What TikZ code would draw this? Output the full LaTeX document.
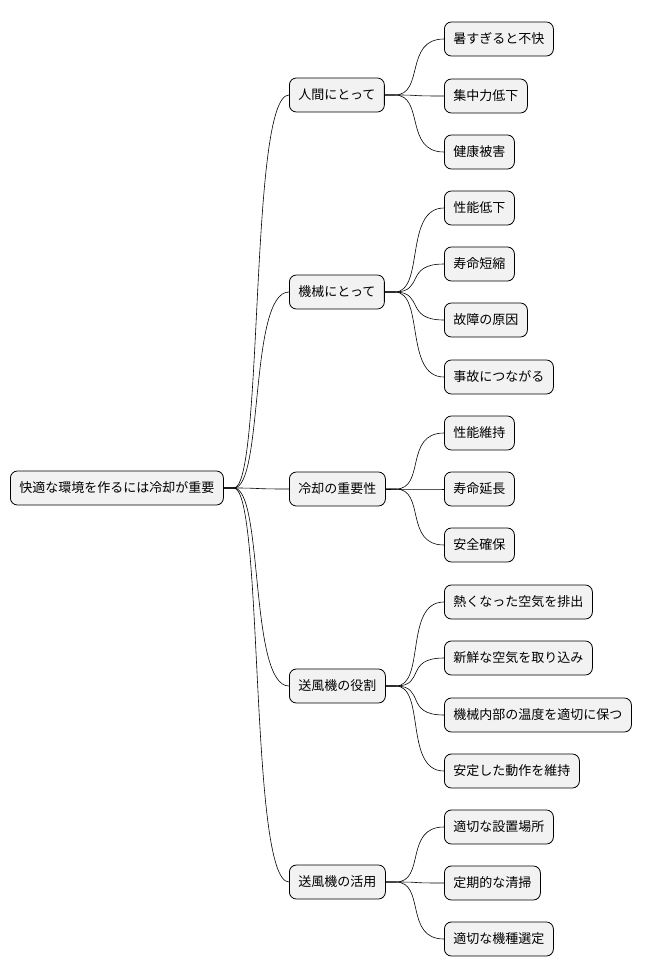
\documentclass[tikz,border=0pt]{standalone}
\usepackage{fontspec}
\setmainfont{Noto Sans CJK JP}
\begin{document}
\begin{tikzpicture}[x=1pt,y=-1pt,
  box/.style={draw=black,line width=0.8pt,fill=black!5,rounded corners=7pt,
    anchor=west,minimum height=34pt,inner xsep=9pt,font=\fontsize{13}{15}\selectfont},
  link/.style={line width=0.6pt}]
  \useasboundingbox (0,0) rectangle (656,978);

  % root
  \node[box] (root) at (10,488) {快適な環境を作るには冷却が重要};

  % level 1
  \node[box] (hum) at (289,95) {人間にとって};
  \node[box] (mac) at (289,292) {機械にとって};
  \node[box] (imp) at (289,489) {冷却の重要性};
  \node[box] (fan) at (289,686) {送風機の役割};
  \node[box] (use) at (289,882) {送風機の活用};

  % level 2
  \foreach \n/\y/\t in {h1/39/暑すぎると不快,h2/96/集中力低下,h3/152/健康被害,
      m1/208/性能低下,m2/264/寿命短縮,m3/320/故障の原因,m4/377/事故につながる,
      i1/433/性能維持,i2/489/寿命延長,i3/545/安全確保,
      f1/602/熱くなった空気を排出,f2/658/新鮮な空気を取り込み,f3/715/機械内部の温度を適切に保つ,f4/771/安定した動作を維持,
      u1/827/適切な設置場所,u2/883/定期的な清掃,u3/939/適切な機種選定}
    \node[box] (\n) at (444,\y) {\t};

  % connectors
  \foreach \p/\c in {root/hum,root/mac,root/imp,root/fan,root/use,
      hum/h1,hum/h2,hum/h3,mac/m1,mac/m2,mac/m3,mac/m4,
      imp/i1,imp/i2,imp/i3,fan/f1,fan/f2,fan/f3,fan/f4,use/u1,use/u2,use/u3}
    \draw[link] (\p.east) -- ++(10,0) .. controls +(30,0) and ([xshift=-40]\c.west) .. (\c.west);
\end{tikzpicture}
\end{document}
